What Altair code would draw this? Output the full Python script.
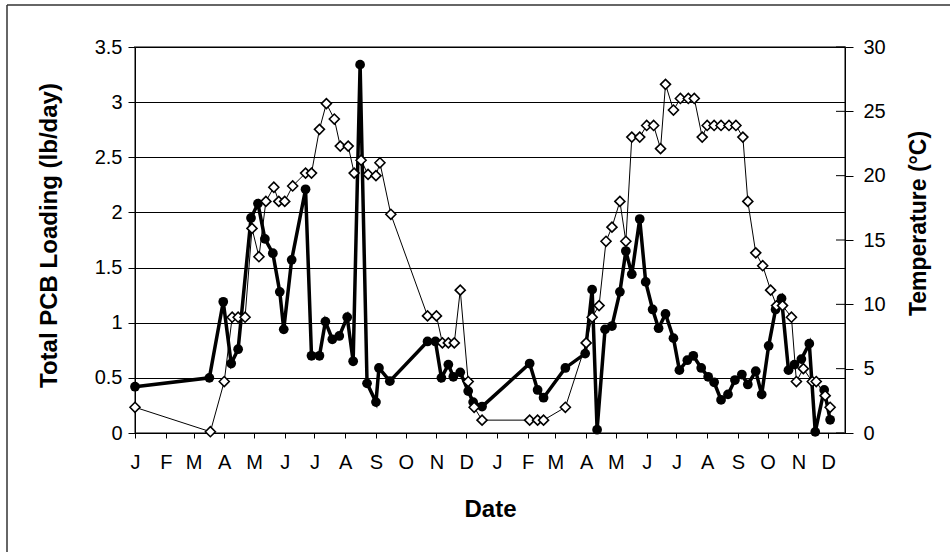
import altair as alt
import pandas as pd

# ---- data ----
pcb_dates = [
    "2001-01-01", "2001-03-17", "2001-03-31", "2001-04-08", "2001-04-15", "2001-04-28",
    "2001-05-05", "2001-05-12", "2001-05-20", "2001-05-27", "2001-05-31", "2001-06-08",
    "2001-06-22", "2001-06-28", "2001-07-06", "2001-07-12", "2001-07-19", "2001-07-26",
    "2001-08-03", "2001-08-09", "2001-08-16", "2001-08-23", "2001-09-01", "2001-09-04",
    "2001-09-15", "2001-10-23", "2001-10-31", "2001-11-06", "2001-11-13", "2001-11-18",
    "2001-11-25", "2001-12-03", "2001-12-08", "2001-12-17", "2002-02-03", "2002-02-11",
    "2002-02-17", "2002-03-11", "2002-03-31", "2002-04-07", "2002-04-12", "2002-04-20",
    "2002-04-27", "2002-05-05", "2002-05-11", "2002-05-17", "2002-05-25", "2002-05-31",
    "2002-06-07", "2002-06-13", "2002-06-20", "2002-06-28", "2002-07-04", "2002-07-12",
    "2002-07-18", "2002-07-26", "2002-08-02", "2002-08-08", "2002-08-15", "2002-08-22",
    "2002-08-29", "2002-09-05", "2002-09-11", "2002-09-19", "2002-09-25", "2002-10-02",
    "2002-10-09", "2002-10-15", "2002-10-22", "2002-10-28", "2002-11-04", "2002-11-12",
    "2002-11-18", "2002-11-27", "2002-12-03",
]
pcb_values = [
    0.42, 0.50, 1.19, 0.63, 0.76, 1.95, 2.08, 1.76, 1.63, 1.28, 0.94, 1.57, 2.21, 0.70,
    0.70, 1.01, 0.85, 0.88, 1.05, 0.65, 3.34, 0.45, 0.28, 0.59, 0.47, 0.83, 0.83, 0.50,
    0.62, 0.51, 0.55, 0.38, 0.28, 0.24, 0.63, 0.39, 0.32, 0.59, 0.72, 1.30, 0.03, 0.94,
    0.97, 1.28, 1.65, 1.44, 1.94, 1.37, 1.12, 0.95, 1.08, 0.86, 0.57, 0.66, 0.70, 0.59,
    0.51, 0.46, 0.30, 0.35, 0.48, 0.53, 0.44, 0.56, 0.35, 0.79, 1.12, 1.22, 0.57, 0.62,
    0.67, 0.81, 0.01, 0.39, 0.12,
]

temp_dates = [
    "2001-01-01", "2001-03-18", "2001-04-01", "2001-04-09", "2001-04-15", "2001-04-22",
    "2001-04-29", "2001-05-06", "2001-05-13", "2001-05-21", "2001-05-26", "2001-06-01",
    "2001-06-09", "2001-06-22", "2001-06-28", "2001-07-06", "2001-07-13", "2001-07-21",
    "2001-07-27", "2001-08-04", "2001-08-10", "2001-08-17", "2001-08-24", "2001-09-01",
    "2001-09-05", "2001-09-16", "2001-10-23", "2001-11-01", "2001-11-07", "2001-11-13",
    "2001-11-19", "2001-11-25", "2001-12-03", "2001-12-09", "2001-12-17", "2002-02-03",
    "2002-02-11", "2002-02-17", "2002-03-11", "2002-04-01", "2002-04-07", "2002-04-14",
    "2002-04-21", "2002-04-27", "2002-05-05", "2002-05-11", "2002-05-17", "2002-05-25",
    "2002-06-01", "2002-06-08", "2002-06-15", "2002-06-20", "2002-06-28", "2002-07-05",
    "2002-07-13", "2002-07-19", "2002-07-27", "2002-08-01", "2002-08-08", "2002-08-15",
    "2002-08-23", "2002-08-30", "2002-09-06", "2002-09-11", "2002-09-19", "2002-09-26",
    "2002-10-04", "2002-10-10", "2002-10-16", "2002-10-25", "2002-10-30", "2002-11-06",
    "2002-11-15", "2002-11-19", "2002-11-28", "2002-12-03",
]
temp_values = [
    2.0, 0.1, 4.0, 9.0, 9.0, 9.0, 15.9, 13.7, 18.0, 19.1, 18.0, 18.0, 19.2, 20.2, 20.2,
    23.6, 25.6, 24.4, 22.3, 22.3, 20.2, 21.2, 20.1, 20.0, 21.0, 17.0, 9.1, 9.1, 7.0, 7.0,
    7.0, 11.1, 4.0, 2.0, 1.0, 1.0, 1.0, 1.0, 2.0, 7.0, 9.0, 9.9, 14.9, 16.0, 18.0, 14.9,
    23.0, 23.0, 23.9, 23.9, 22.1, 27.1, 25.1, 26.0, 26.0, 26.0, 23.0, 23.9, 23.9, 23.9,
    23.9, 23.9, 23.0, 18.0, 14.0, 13.0, 11.1, 9.9, 9.9, 9.0, 4.0, 5.0, 4.0, 4.0, 2.9, 2.0,
]

pcb_ticks = [0, 0.5, 1, 1.5, 2, 2.5, 3, 3.5]
temp_ticks = [0, 5, 10, 15, 20, 25, 30]

x_title = "Date"
left_title = "Total PCB Loading (lb/day)"
right_title = "Temperature (°C)"

# ---- tables ----
pcb_df = pd.DataFrame({"date": pcb_dates, "pcb": pcb_values})
temp_df = pd.DataFrame({"date": temp_dates, "temp": temp_values})
temp_tick_df = pd.DataFrame({"temp": temp_ticks})
frame_df = pd.DataFrame({"k": [0]})

FONT = "Liberation Sans"
W, H = 710, 386
LABEL_SIZE = 20
TITLE_SIZE = 24

x_scale = alt.Scale(
    type="utc",
    domain=[
        alt.DateTime(year=2001, month=1, date=1, utc=True),
        alt.DateTime(year=2002, month=12, date=18, utc=True),
    ],
    nice=False,
)
x_axis = alt.Axis(
    title=x_title,
    tickCount={"interval": "month", "step": 1},
    labelExpr="substring(utcFormat(datum.value, '%b'), 0, 1)",
    grid=False,
    domainColor="black",
    tickColor="black",
    tickSize=5,
    labelPadding=14,
    labelFontSize=LABEL_SIZE,
    labelFont=FONT,
    labelColor="black",
    labelFlush=False,
    labelOverlap=False,
    titleFont=FONT,
    titleFontSize=TITLE_SIZE,
    titleFontWeight="bold",
    titleColor="black",
    titleX=W / 2,
    titleY=76,
    titleAlign="center",
    titleBaseline="middle",
)
x_enc = alt.X("date:T", scale=x_scale, axis=x_axis)

left_axis = alt.Axis(
    title=left_title,
    values=pcb_ticks,
    format="~g",
    grid=True,
    gridColor="black",
    gridWidth=1,
    domainColor="black",
    tickColor="black",
    tickSize=7,
    labelPadding=6,
    labelFontSize=LABEL_SIZE,
    labelFont=FONT,
    labelColor="black",
    titleFont=FONT,
    titleFontSize=TITLE_SIZE,
    titleFontWeight="bold",
    titleColor="black",
    titleX=-86,
    titleY=188,
    titleAngle=270,
    titleAlign="center",
    titleBaseline="middle",
)
pcb_scale = alt.Scale(domain=[0, 3.5], nice=False)
y_pcb = alt.Y("pcb:Q", scale=pcb_scale, axis=left_axis)

right_axis = alt.Axis(
    title=right_title,
    values=temp_ticks,
    orient="right",
    grid=False,
    domainColor="black",
    tickColor="black",
    tickSize=8,
    labelPadding=10,
    labelFontSize=LABEL_SIZE,
    labelFont=FONT,
    labelColor="black",
    titleFont=FONT,
    titleFontSize=TITLE_SIZE - 1,
    titleFontWeight="bold",
    titleColor="black",
    titleX=73,
    titleY=176,
    titleAngle=270,
    titleAlign="center",
    titleBaseline="middle",
)
temp_scale = alt.Scale(domain=[0, 30], nice=False)
y_temp = alt.Y("temp:Q", scale=temp_scale, axis=right_axis)

# outer frame (cut off at right and bottom as in the reference)
frame_left = alt.Chart(frame_df).mark_rule(color="#333333", strokeWidth=1.5).encode(
    x=alt.value(-128), y=alt.value(-42), y2=alt.value(H + 200)
)
frame_top = alt.Chart(frame_df).mark_rule(color="#333333", strokeWidth=1.5).encode(
    x=alt.value(-128), x2=alt.value(W + 200), y=alt.value(-42)
)

pcb_line = alt.Chart(pcb_df).mark_line(color="black", strokeWidth=3.5).encode(
    x=x_enc, y=y_pcb
)
pcb_pts = alt.Chart(pcb_df).mark_point(
    shape="circle", filled=True, color="black", size=95, opacity=1
).encode(x=x_enc, y=y_pcb)

pcb_layer = alt.layer(pcb_line, pcb_pts)

temp_tick_in = alt.Chart(temp_tick_df).mark_rule(color="black", strokeWidth=1).encode(
    x=alt.value(W - 9), x2=alt.value(W), y=y_temp
)
temp_line = alt.Chart(temp_df).mark_line(color="black", strokeWidth=1).encode(
    x=x_enc, y=y_temp
)
temp_pts = alt.Chart(temp_df).mark_point(
    shape="diamond", filled=True, fill="white", stroke="black", strokeWidth=1.6,
    size=100, opacity=1,
).encode(x=x_enc, y=y_temp)

temp_layer = alt.layer(temp_tick_in, temp_line, temp_pts)

chart = (
    alt.layer(pcb_layer, temp_layer, frame_left, frame_top)
    .resolve_scale(y="independent")
    .properties(
        width=W,
        height=H,
        padding={"left": 135, "top": 47, "right": 105, "bottom": 119},
        autosize=alt.AutoSizeParams(type="none"),
        background="white",
    )
    .configure_view(stroke="#808080", strokeWidth=2)
)

chart.save("out.html", embed_options={"renderer": "svg", "actions": False})
